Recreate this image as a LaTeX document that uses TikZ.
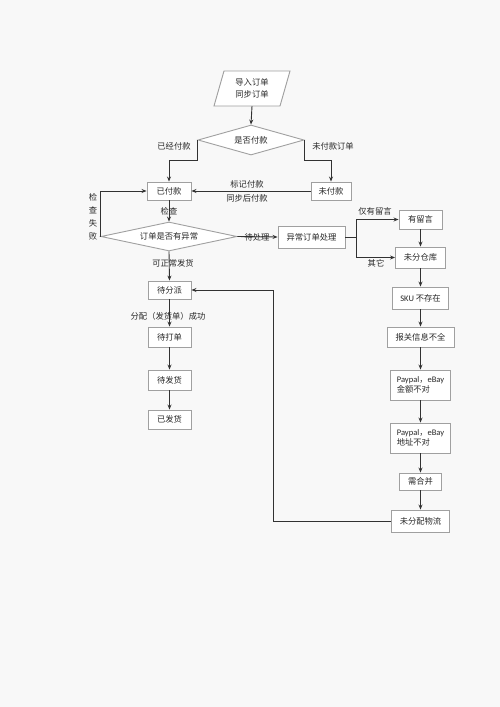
\documentclass[tikz,border=0pt]{standalone}
\usepackage{fontspec}
\newfontfamily\cjk{Noto Sans CJK SC}
\newfontfamily\lat{Carlito}
\usetikzlibrary{shapes.geometric,arrows.meta}
\definecolor{bg}{RGB}{248,248,248}
\definecolor{boxgray}{RGB}{160,160,160}
\definecolor{linegray}{RGB}{50,50,50}
\definecolor{txt}{RGB}{40,40,40}
\begin{document}
\begin{tikzpicture}[x=1pt,y=-1pt,
  every node/.style={font=\cjk\fontsize{8.3}{10}\selectfont, text=txt},
  box/.style={draw=boxgray, fill=white, line width=0.9pt, inner sep=0pt, align=center, minimum height=18},
  dia/.style={shape=diamond, draw=boxgray, fill=white, line width=0.9pt, inner sep=0pt},
  arr/.style={-{Stealth[length=5pt,width=4pt]}, line width=0.9pt, draw=linegray},
  ln/.style={line width=0.9pt, draw=linegray},
  lbl/.style={inner sep=1pt, align=center}]
\fill[bg] (0,0) rectangle (500,707);
\useasboundingbox (0,0) rectangle (500,707);

% import parallelogram
\node[minimum width=66, minimum height=35, inner sep=0pt, align=center] (imp) at (252,88.5) {};
\draw[draw=boxgray, fill=white, line width=0.9pt] (224,71) -- (290,71) -- (280,106) -- (214,106) -- cycle;
\node[align=center, inner sep=0pt] at (252,88.5) {导入订单\\[2pt]同步订单};

\node[dia, aspect=3.6, minimum width=106, minimum height=30] (d1) at (251,140) {是否付款};
\node[box, minimum width=44] (paid) at (169,191) {已付款};
\node[box, minimum width=40] (unpaid) at (331,191) {未付款};
\node[dia, aspect=4.7, minimum width=136, minimum height=29] (d2) at (169,236.5) {订单是否有异常};
\node[box, minimum width=67, minimum height=22] (exc) at (311.5,237) {异常订单处理};

\node[box, minimum width=43] (disp) at (169.5,290) {待分派};
\node[box, minimum width=43, minimum height=20] (print) at (169.5,337) {待打单};
\node[box, minimum width=43, minimum height=20] (ship) at (169.5,380) {待发货};
\node[box, minimum width=43, minimum height=19] (shipped) at (169.5,419.5) {已发货};

\node[box, minimum width=43, minimum height=19] (msg) at (420.5,219.5) {有留言};
\node[box, minimum width=50, minimum height=21] (wh) at (420.5,257.5) {未分仓库};
\node[box, minimum width=56, minimum height=22] (sku) at (420.5,298) {{\lat\fontsize{8.5}{10}\selectfont SKU} 不存在};
\node[box, minimum width=67, minimum height=20] (cust) at (420.5,337) {报关信息不全};
\node[box, minimum width=60, minimum height=30, align=left] (pay1) at (420.5,385) {{\lat\fontsize{8.5}{10}\selectfont Paypal}，{\lat\fontsize{8.5}{10}\selectfont eBay}\\金额不对};
\node[box, minimum width=60, minimum height=30, align=left] (pay2) at (420.5,438) {{\lat\fontsize{8.5}{10}\selectfont Paypal}，{\lat\fontsize{8.5}{10}\selectfont eBay}\\地址不对};
\node[box, minimum width=42, minimum height=17] (merge) at (420.5,481.5) {需合并};
\node[box, minimum width=58, minimum height=22] (logi) at (420.5,521) {未分配物流};

% connectors
\draw[arr] (imp.south) -- (d1.north);
\draw[arr] (d1.west) -- ++(0,20) -| (paid.north);
\draw[arr] (d1.east) -- ++(0,20) -| (unpaid.north);
\draw[arr] (unpaid.west) -- (paid.east);
\draw[arr] (paid.south) -- (d2.north);
\draw[arr] (d2.west) |- (paid.west);
\draw[arr] (d2.east) -- (exc.west);
\draw[ln] (exc.east) -- ++(11,0) coordinate (j);
\draw[arr] (j) |- (msg.west);
\draw[arr] (j) |- (wh.west);
\draw[arr] (msg.south) -- (wh.north);
\draw[arr] (wh.south) -- (sku.north);
\draw[arr] (sku.south) -- (cust.north);
\draw[arr] (cust.south) -- (pay1.north);
\draw[arr] (pay1.south) -- (pay2.north);
\draw[arr] (pay2.south) -- (merge.north);
\draw[arr] (merge.south) -- (logi.north);
\draw[arr] (logi.west) -- ++(-117.5,0) |- (disp.east);
\draw[arr] (d2.south) -- (disp.north);
\draw[arr] (disp.south) -- (print.north);
\draw[arr] (print.south) -- (ship.north);
\draw[arr] (ship.south) -- (shipped.north);

% labels
\node[lbl] at (174,146) {已经付款};
\node[lbl] at (333,146) {未付款订单};
\node[lbl] at (247,184) {标记付款};
\node[lbl] at (247,198) {同步后付款};
\node[lbl] at (169,211) {检查};
\node[lbl] at (93,217) {检\\[3pt]查\\[3pt]失\\[3pt]败};
\node[lbl] at (257,237) {待处理};
\node[lbl] at (173,263) {可正常发货};
\node[lbl] at (168,316) {分配（发货单）成功};
\node[lbl] at (375,211) {仅有留言};
\node[lbl] at (376,263) {其它};
\end{tikzpicture}
\end{document}
